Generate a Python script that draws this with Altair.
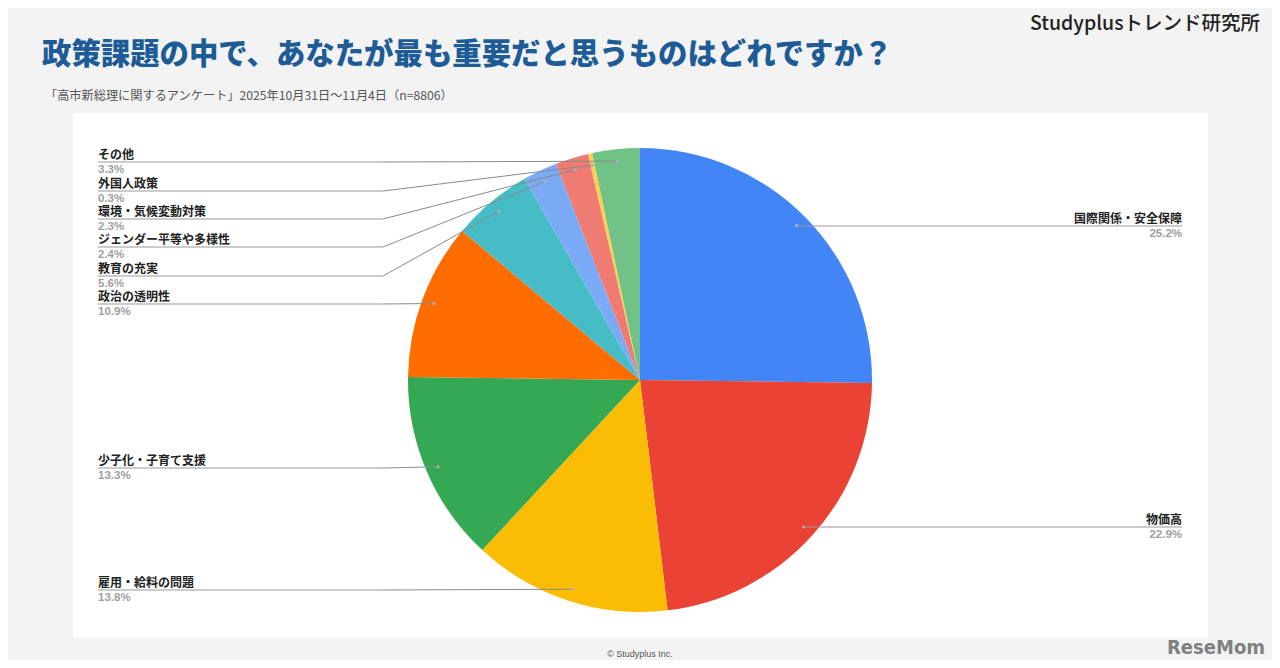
import altair as alt
import pandas as pd

# ---- data ----
CATEGORIES = ["国際関係・安全保障", "物価高", "雇用・給料の問題", "少子化・子育て支援",
              "政治の透明性", "教育の充実", "ジェンダー平等や多様性", "環境・気候変動対策",
              "外国人政策", "その他"]
VALUES = [25.2, 22.9, 13.8, 13.3, 10.9, 5.6, 2.4, 2.3, 0.3, 3.3]
COLORS = ["#4285F4", "#EA4335", "#FBBC04", "#34A853", "#FF6D01",
          "#46BDC6", "#7BAAF7", "#F07B72", "#FCD04F", "#71C287"]

TITLE = "政策課題の中で、あなたが最も重要だと思うものはどれですか？"
SUBTITLE = "「高市新総理に関するアンケート」2025年10月31日～11月4日（n=8806）"
BRAND = "Studyplusトレンド研究所"
FOOTER = "© Studyplus Inc."
LOGO = "ReseMom"

# ---- layout (pixels within the chart) ----
W, H = 1264, 652
CX, CY, R = 632, 372, 232
R_ANCHOR = 220
LABEL_LINE_Y = [218, 519, 582, 460, 296, 268, 239, 211, 183, 154]
LEFT_X, RIGHT_X, LEFT_ELBOW = 90, 1174, 375
FONT = "Noto Sans CJK JP"

df = pd.DataFrame({
    "category": CATEGORIES,
    "value": VALUES,
    "idx": list(range(len(CATEGORIES))),
    "ly": LABEL_LINE_Y,
})

one = alt.Data(values=[{}])

panel = alt.Chart(one).mark_rect(color="white").encode(
    x=alt.value(65), x2=alt.value(1200), y=alt.value(105), y2=alt.value(630)
)

pie = alt.Chart(df).mark_arc(radius=R, stroke=None).encode(
    theta=alt.Theta("value:Q", stack=True),
    order=alt.Order("idx:Q", sort="ascending"),
    color=alt.Color("category:N", scale=alt.Scale(domain=CATEGORIES, range=COLORS), legend=None),
    x=alt.value(CX), y=alt.value(CY),
)

base = (
    alt.Chart(df)
    .transform_joinaggregate(total="sum(value)")
    .transform_window(cum="sum(value)", sort=[alt.SortField("idx")], frame=[None, 0])
    .transform_calculate(
        mid="(datum.cum - datum.value/2) / datum.total * 2 * PI",
        ax=f"{CX} + {R_ANCHOR} * sin(datum.mid)",
        ay=f"{CY} - {R_ANCHOR} * cos(datum.mid)",
        side='sin(datum.mid) >= 0 ? "right" : "left"',
    )
    .transform_calculate(
        ex=f'datum.side == "right" ? datum.ax : {LEFT_ELBOW}',
        tx=f'datum.side == "right" ? {RIGHT_X} : {LEFT_X}',
        pct='format(datum.value, ".1f") + "%"',
    )
)

X = lambda f: alt.X(f"{f}:Q", scale=None, axis=None)
Y = lambda f: alt.Y(f"{f}:Q", scale=None, axis=None)

seg1 = base.mark_rule(color="#8a8a8a", strokeWidth=1).encode(
    x=X("ax"), y=Y("ay"), x2="ex:Q", y2="ly:Q"
)
seg2 = base.mark_rule(color="#9a9a9a", strokeWidth=1.2).encode(
    x=X("ex"), y=Y("ly"), x2="tx:Q", y2="ly:Q"
)
dots = base.mark_circle(color="#b0b0b0", size=10, opacity=1).encode(
    x=X("ax"), y=Y("ay")
)

def labels(side, align):
    b = base.transform_filter(f'datum.side == "{side}"')
    name = b.mark_text(align=align, baseline="alphabetic", font=FONT, fontSize=12,
                       fontWeight="bold", color="#222222", dy=-3).encode(
        x=X("tx"), y=Y("ly"), text="category:N")
    pct = b.mark_text(align=align, baseline="top", font="Liberation Sans, Arial",
                      fontSize=11.5, fontWeight="bold", color="#a0a0a0", dy=2).encode(
        x=X("tx"), y=Y("ly"), text="pct:N")
    return name + pct

title = alt.Chart(one).mark_text(text=TITLE, align="left", baseline="middle", font=FONT,
                                 fontSize=29.4, fontWeight=900, color="#1d5c96").encode(
    x=alt.value(34), y=alt.value(47))
subtitle = alt.Chart(one).mark_text(text=SUBTITLE, align="left", baseline="middle", font=FONT,
                                    fontSize=12.2, color="#555555").encode(
    x=alt.value(37), y=alt.value(88))
brand = alt.Chart(one).mark_text(text=BRAND, align="right", baseline="middle", font=FONT,
                                 fontSize=19.5, fontWeight=500, color="#222222").encode(
    x=alt.value(1252), y=alt.value(16))
footer = alt.Chart(one).mark_text(text=FOOTER, align="center", baseline="middle",
                                  font="Liberation Sans, Arial", fontSize=9, color="#555555").encode(
    x=alt.value(632), y=alt.value(646))
logo = alt.Chart(one).mark_text(text=LOGO, align="right", baseline="alphabetic",
                                font="Liberation Sans Narrow, DejaVu Sans Condensed, Arial",
                                fontSize=20, fontWeight="bold", color="#808080").encode(
    x=alt.value(1257), y=alt.value(646))

chart = alt.layer(
    panel, pie, seg1, seg2, dots,
    labels("left", "left"), labels("right", "right"),
    title, subtitle, brand, footer, logo,
).properties(
    width=W, height=H,
    autosize=alt.AutoSizeParams(type="none"),
    padding=0,
).configure(background="#f3f3f3").configure_view(stroke=None)

chart.save("out.html", embed_options={"renderer": "svg", "actions": False})
